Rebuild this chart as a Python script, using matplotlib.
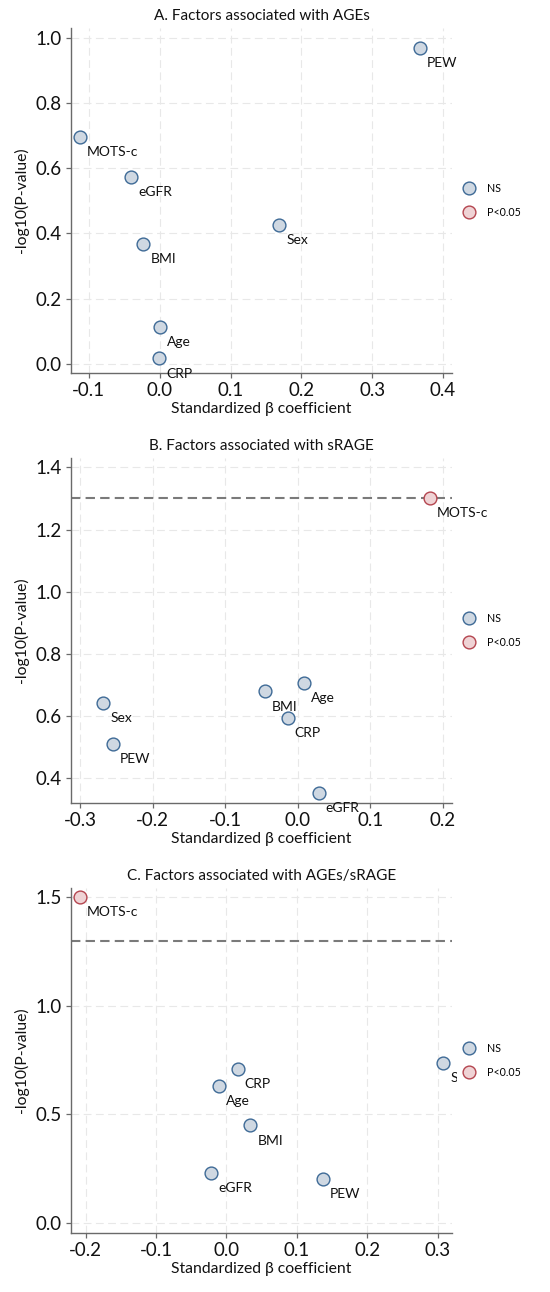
import matplotlib as mpl
mpl.use('Agg')
import matplotlib.pyplot as plt
from matplotlib.lines import Line2D

plt.rcParams['font.family'] = ['Lato', 'DejaVu Sans']

factors_a = ['PEW', 'MOTS-c', 'eGFR', 'Sex', 'BMI', 'Age', 'CRP']
beta_a = [0.367, -0.113, -0.040, 0.169, -0.023, 0.001, -0.001]
logp_a = [0.970, 0.697, 0.573, 0.427, 0.368, 0.114, 0.017]

factors_b = ['MOTS-c', 'Sex', 'PEW', 'BMI', 'Age', 'CRP', 'eGFR']
beta_b = [0.182, -0.268, -0.255, -0.045, 0.009, -0.014, 0.029]
logp_b = [1.301, 0.644, 0.511, 0.680, 0.706, 0.594, 0.353]

factors_c = ['MOTS-c', 'Sex', 'CRP', 'Age', 'BMI', 'eGFR', 'PEW']
beta_c = [-0.208, 0.308, 0.016, -0.010, 0.034, -0.022, 0.137]
logp_c = [1.502, 0.737, 0.711, 0.631, 0.450, 0.230, 0.204]

threshold = 1.301  # -log10(0.05)

panels = [
    ('A. Factors associated with AGEs', factors_a, beta_a, logp_a,
     (-0.1254, 0.4127), (-0.028, 1.03), [-0.1, 0.0, 0.1, 0.2, 0.3, 0.4],
     [0.0, 0.2, 0.4, 0.6, 0.8, 1.0], False),
    ('B. Factors associated with sRAGE', factors_b, beta_b, logp_b,
     (-0.3124, 0.2124), (0.321, 1.43), [-0.3, -0.2, -0.1, 0.0, 0.1, 0.2],
     [0.4, 0.6, 0.8, 1.0, 1.2, 1.4], True),
    ('C. Factors associated with AGEs/sRAGE', factors_c, beta_c, logp_c,
     (-0.2209, 0.3204), (-0.046, 1.543), [-0.2, -0.1, 0.0, 0.1, 0.2, 0.3],
     [0.0, 0.5, 1.0, 1.5], True),
]

ns_face, ns_edge = '#cfd8e2', '#3e6a96'
sig_face, sig_edge = '#efd3d5', '#b4454f'
spine_col = '#6a6a6a'

fig = plt.figure(figsize=(5.5, 12.92), dpi=100)
bottoms = [0.7113, 0.3785, 0.0457]

for (title, names, beta, logp, xlim, ylim, xt, yt, show_thr), b in zip(panels, bottoms):
    ax = fig.add_axes([0.129, b, 0.6927, 0.267])
    ax.set_xlim(*xlim)
    ax.set_ylim(*ylim)
    ax.set_xticks(xt)
    ax.set_yticks(yt)
    ax.set_xticklabels(['%.1f' % v for v in xt])
    ax.set_yticklabels(['%.1f' % v for v in yt])
    ax.grid(True, color='#e8e8e8', linestyle=(0, (7, 4)), linewidth=0.8)
    ax.set_axisbelow(True)

    if show_thr:
        ax.axhline(threshold, color='#7a7a7a', linewidth=1.5,
                   dashes=(4.5, 2.5), zorder=1.5)

    for n, x, y in zip(names, beta, logp):
        sig = y >= threshold - 1e-6
        ax.scatter([x], [y], s=85, marker='o',
                   facecolor=sig_face if sig else ns_face,
                   edgecolor=sig_edge if sig else ns_edge,
                   linewidth=1.0, zorder=3, clip_on=False)
        ax.annotate(n, (x, y), xytext=(5.0, -11.0), textcoords='offset points',
                    ha='left', va='center', fontsize=10, color='#111111',
                    zorder=3, annotation_clip=False)

    for side in ['top', 'right']:
        ax.spines[side].set_visible(False)
    for side in ['left', 'bottom']:
        ax.spines[side].set_color(spine_col)
        ax.spines[side].set_linewidth(1.0)
    ax.tick_params(axis='both', direction='out', length=3.5, width=0.9,
                   color=spine_col, labelsize=13.5, pad=3, labelcolor='#111111')

    ax.set_title(title, fontsize=11, pad=6, color='#111111')
    ax.set_xlabel('Standardized \u03b2 coefficient', fontsize=11.3,
                  labelpad=2, color='#111111')
    ax.set_ylabel('-log10(P-value)', fontsize=11.3, labelpad=5, color='#111111')

    handles = [
        Line2D([], [], linestyle='none', marker='o', markersize=9.2,
               markerfacecolor=ns_face, markeredgecolor=ns_edge,
               markeredgewidth=1.0),
        Line2D([], [], linestyle='none', marker='o', markersize=9.2,
               markerfacecolor=sig_face, markeredgecolor=sig_edge,
               markeredgewidth=1.0),
    ]
    leg = ax.legend(handles, ['NS', 'P<0.05'], loc='center left',
                    bbox_to_anchor=(1.0, 0.5), frameon=True, fontsize=7.7,
                    handlelength=1.0, handletextpad=1.18, labelspacing=1.25,
                    borderpad=0.6, borderaxespad=0.5)
    leg.get_frame().set_facecolor('white')
    leg.get_frame().set_edgecolor('none')
    leg.get_frame().set_alpha(1.0)
    leg.set_zorder(10)

fig.savefig('out.png', dpi=100)
